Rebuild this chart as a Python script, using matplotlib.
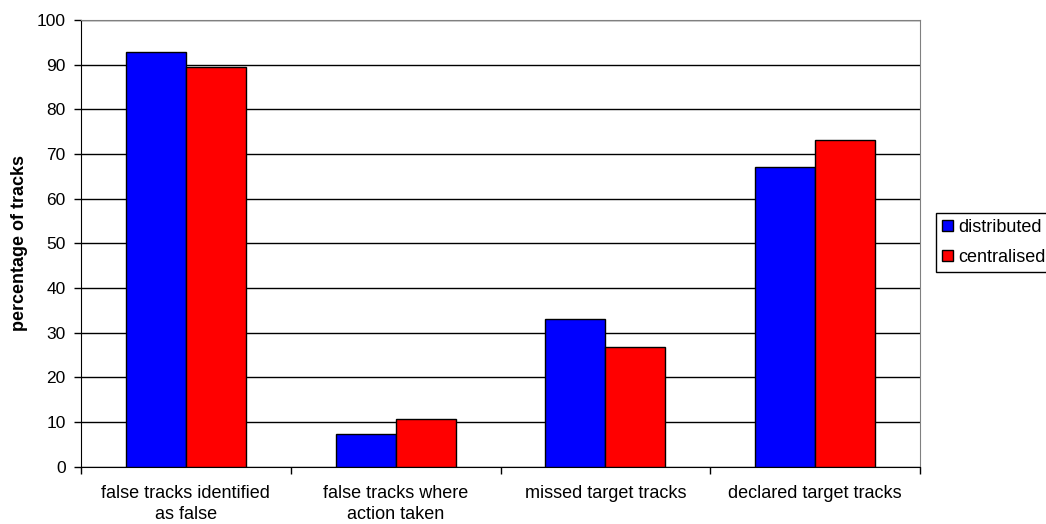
import numpy as np
import matplotlib.pyplot as plt

plt.rcParams['font.family'] = ['Liberation Sans', 'DejaVu Sans']

categories = ["false tracks identified\nas false", "false tracks where\naction taken",
              "missed target tracks", "declared target tracks"]
distributed = [92.9, 7.25, 33.0, 67.2]
centralised = [89.4, 10.7, 26.9, 73.1]

fig = plt.figure(figsize=(10.46, 5.24), dpi=100)
ax = fig.add_axes([0.0774, 0.1094, 0.8022, 0.8524])

x = np.arange(len(categories)) + 0.5
w = 1 / 3.5
ax.bar(x - w / 2, distributed, w, color='#0000ff', edgecolor='black', linewidth=1, label='distributed', zorder=3)
ax.bar(x + w / 2, centralised, w, color='#ff0000', edgecolor='black', linewidth=1, label='centralised', zorder=3)

ax.set_xlim(0, 4)
ax.set_ylim(0, 100)
ax.set_yticks(range(0, 101, 10))
ax.yaxis.grid(True, color='black', linewidth=1, zorder=0)

ax.set_xticks(range(5))
ax.set_xticklabels([])
ax.set_xticks(x, minor=True)
ax.set_xticklabels(categories, minor=True, fontsize=13, linespacing=1.35)
ax.tick_params(axis='x', which='minor', length=0, pad=13)
ax.tick_params(axis='x', which='major', length=5, direction='out', width=1)
ax.tick_params(axis='y', length=5, direction='out', labelsize=12.5, width=1, pad=6)

for s in ['top', 'right']:
    ax.spines[s].set_color('#808080')
ax.spines['left'].set_color('black')
ax.spines['bottom'].set_color('black')

ax.set_ylabel('percentage of tracks', fontsize=13, fontweight='bold', labelpad=6)

leg = ax.legend(loc='upper left', bbox_to_anchor=(0.895, 0.594), bbox_transform=fig.transFigure,
                borderaxespad=0, fancybox=False, edgecolor='black', fontsize=13,
                handlelength=0.6, handleheight=0.6, handletextpad=0.3, borderpad=0.35,
                labelspacing=0.7, framealpha=1)
leg.get_frame().set_linewidth(1)

fig.savefig('out.png', dpi=100)
